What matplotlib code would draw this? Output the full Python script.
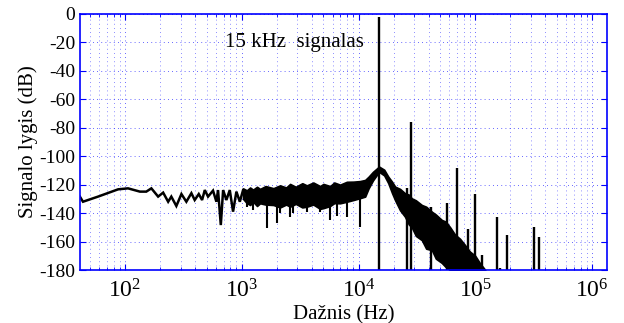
import matplotlib
matplotlib.use("Agg")
import matplotlib.pyplot as plt
from matplotlib.ticker import LogLocator, FixedLocator, FuncFormatter

plt.rcParams['font.family'] = ['Liberation Serif', 'DejaVu Serif']
plt.rcParams['mathtext.fontset'] = 'stix'
plt.rcParams['axes.unicode_minus'] = False

# low-frequency part of the spectrum (single trace), Hz / dB
low_freq = [41, 43.6, 58.7, 87.1, 106, 134, 152, 168, 192, 212, 234, 249, 275,
            304, 335, 370, 395, 428, 457, 482, 514, 567, 606, 626, 661, 692,
            738, 789, 842, 899, 962, 1026]
low_db = [-128.4, -132.0, -128.4, -123.3, -122.6, -124.9, -124.9, -122.6,
          -128.4, -125.6, -132.0, -128.4, -135.0, -126.6, -132.0, -126.0,
          -130.8, -126.6, -130.8, -123.8, -128.4, -124.2, -132.0, -123.8,
          -148.4, -123.8, -130.8, -123.8, -139.0, -124.9, -132.0, -123.8]

# dense noise band above 1 kHz: upper / lower envelope
band_freq = [1026, 1104, 1178, 1250, 1350, 1435, 1600, 1867, 2128, 2400,
             2594, 2900, 3300, 3606, 4100, 4688, 5005, 5712, 6200, 6950,
             7943, 9040, 10300, 11400, 12200, 13300, 15000, 16600, 18000, 19400,
             20600, 22700, 25000, 27000, 28600, 31000, 34900, 38000, 42500, 46000,
             51700, 56000, 61000, 67000, 74000, 81000, 90000, 100000, 110000, 122000]
band_top = [-122.6, -124.0, -122.0, -123.5, -121.5, -123.0, -121.0, -122.5, -120.5, -122.0,
            -119.5, -121.5, -119.0, -120.5, -118.5, -121.0, -119.5, -121.0, -118.5, -120.0,
            -118.0, -117.9, -117.5, -116.7, -114.4, -111.0, -107.3, -109.5, -114.4, -118.0,
            -121.4, -123.0, -126.0, -127.0, -129.6, -131.0, -134.3, -135.5, -139.0, -141.0,
            -144.8, -146.0, -150.0, -155.0, -158.0, -162.0, -167.0, -170.0, -175.3, -180.0]
band_bot = [-130.0, -133.0, -134.3, -132.0, -135.0, -133.1, -134.0, -134.3, -136.0, -134.0,
            -135.5, -133.5, -136.0, -135.5, -134.0, -137.0, -136.5, -135.0, -133.0, -133.1,
            -132.0, -130.8, -129.5, -128.4, -122.6, -117.0, -111.0, -113.5, -119.0, -126.0,
            -131.0, -138.0, -142.5, -148.0, -150.0, -156.0, -159.0, -165.0, -166.0, -172.0,
            -175.0, -178.0, -180.0, -180.0, -180.0, -180.0, -180.0, -180.0, -180.0, -180.0]

# downward dips out of the noise band
dip_freq = [1104, 1250, 1637, 1995, 2128, 2594, 2754, 3606, 4688, 5712,
            6516, 7943, 10300]
dip_db = [-136.0, -138.0, -150.7, -147.0, -140.0, -142.5, -140.0, -139.0,
          -139.0, -144.8, -142.0, -142.5, -149.5]

# signal + harmonic/spurious peaks
peak_freq = [15000, 25800, 28000, 41900, 57100, 70300, 86500, 100000, 114000,
             155000, 163000, 187000, 321000, 353000]
peak_db = [-2.0, -122.6, -75.7, -135.5, -133.1, -108.0, -151.4, -126.6,
           -169.5, -142.5, -178.4, -155.4, -149.5, -156.6]

yticks = [0, -20, -40, -60, -80, -100, -120, -140, -160, -180]

fig = plt.figure(figsize=(6.24, 3.23), dpi=100)
ax = fig.add_axes([0.128, 0.164, 0.845, 0.793])

blue = '#0000ff'
ax.set_xscale('log')
ax.set_xlim(41, 1.35e6)
ax.set_ylim(-180, 0)

ax.plot(low_freq, low_db, color='k', lw=1.8, solid_joinstyle='miter')
ax.fill_between(band_freq, band_bot, band_top, color='k', lw=1.2, edgecolor='k')
ax.vlines(dip_freq, [-128] * len(dip_freq), dip_db, color='k', lw=1.5)
ax.vlines(peak_freq, [-180] * len(peak_freq), peak_db, color='k', lw=1.7)

ax.text(720, -20, '15 kHz  signalas', fontsize=15, va='center', ha='left')

ax.set_xlabel('Dažnis (Hz)', fontsize=15)
ax.set_ylabel('Signalo lygis (dB)', fontsize=15)
ax.xaxis.set_label_coords(0.5, -0.137)
ax.yaxis.set_label_coords(-0.079, 0.5)

ax.yaxis.set_major_locator(FixedLocator(yticks))
ax.yaxis.set_major_formatter(FuncFormatter(lambda v, p: '%d' % v))
ax.xaxis.set_major_locator(LogLocator(base=10, numticks=10))
ax.xaxis.set_minor_locator(LogLocator(base=10, subs=range(2, 10), numticks=100))

ax.tick_params(which='both', direction='in', top=True, right=True,
               colors=blue, labelcolor='k', labelsize=14)
ax.tick_params(axis='x', which='major', labelsize=17, pad=7)
ax.tick_params(which='major', length=4, width=0.8)
ax.tick_params(which='minor', length=2.5, width=0.6)
for s in ax.spines.values():
    s.set_color(blue)
    s.set_linewidth(1.2)

ax.grid(True, which='major', color=blue, linestyle=(0, (1, 4)), lw=0.6, alpha=0.8)
ax.grid(True, which='minor', axis='x', color=blue, linestyle=(0, (1, 4)), lw=0.6, alpha=0.6)
ax.set_axisbelow(True)

fig.savefig('out.png', dpi=100)
